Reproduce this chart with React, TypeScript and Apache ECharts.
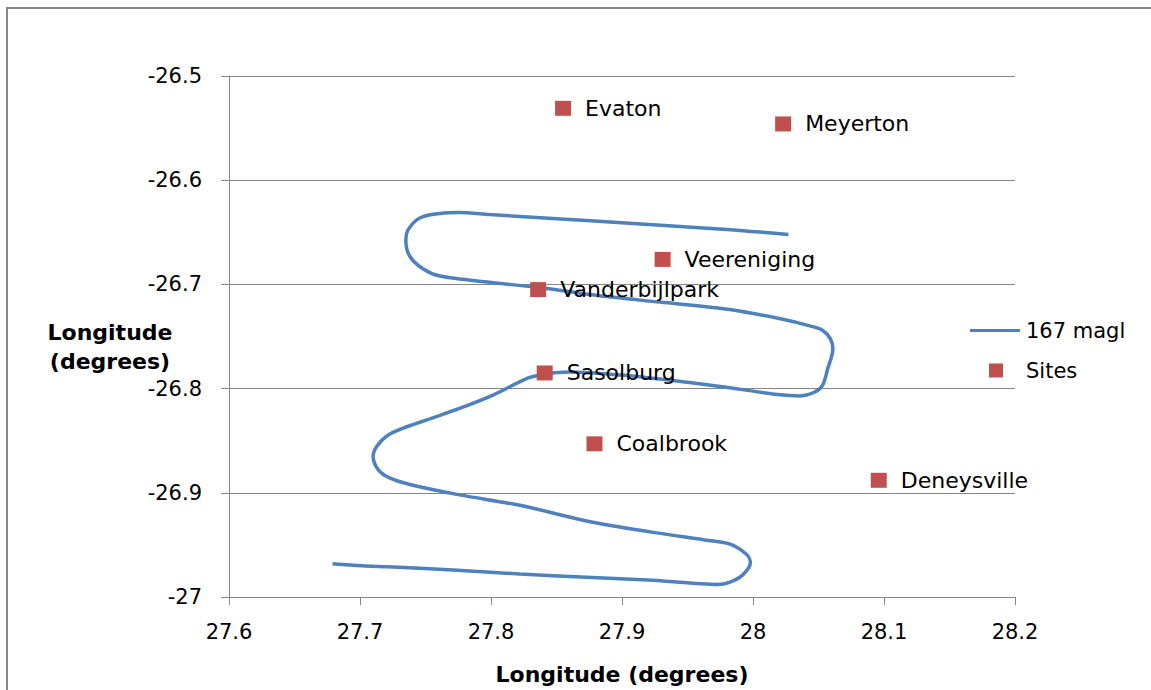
import React, { useEffect, useRef } from "react";
import * as echarts from "echarts";

// Trajectory (167 magl): longitude / latitude pairs, in path order
const trackLon = [
  28.027, 27.977, 27.876, 27.799, 27.776, 27.761, 27.746, 27.737, 27.735, 27.738,
  27.748, 27.761, 27.799, 27.837, 27.883, 27.929, 27.982, 28.021, 28.044, 28.053,
  28.059, 28.061, 28.057, 28.053, 28.046, 28.036, 28.021, 27.975, 27.937, 27.899,
  27.860, 27.847, 27.841, 27.828, 27.802, 27.776, 27.751, 27.733, 27.721, 27.713,
  27.710, 27.714, 27.723, 27.738, 27.776, 27.822, 27.873, 27.924, 27.962, 27.982,
  27.995, 27.998, 27.992, 27.982, 27.973, 27.924, 27.873, 27.822, 27.771, 27.721,
  27.702, 27.679,
];
const trackLat = [
  -26.652, -26.647, -26.639, -26.633, -26.631, -26.632, -26.636, -26.647, -26.658, -26.673,
  -26.685, -26.692, -26.698, -26.703, -26.711, -26.717, -26.724, -26.733, -26.740, -26.744,
  -26.752, -26.762, -26.781, -26.797, -26.804, -26.807, -26.806, -26.798, -26.792, -26.787,
  -26.784, -26.785, -26.786, -26.790, -26.806, -26.819, -26.830, -26.838, -26.845, -26.855,
  -26.865, -26.878, -26.886, -26.892, -26.902, -26.912, -26.927, -26.938, -26.945, -26.949,
  -26.959, -26.967, -26.979, -26.986, -26.988, -26.984, -26.981, -26.978, -26.974, -26.971,
  -26.970, -26.968,
];

// Sites
const siteNames = ["Evaton", "Meyerton", "Veereniging", "Vanderbijlpark", "Sasolburg", "Coalbrook", "Deneysville"];
const siteLon = [27.855, 28.023, 27.931, 27.836, 27.841, 27.879, 28.096];
const siteLat = [-26.531, -26.546, -26.676, -26.705, -26.785, -26.853, -26.888];

// Axis ticks
const xTicks = [27.6, 27.7, 27.8, 27.9, 28, 28.1, 28.2];
const yTicks = [-27, -26.9, -26.8, -26.7, -26.6, -26.5];

const FONT = "DejaVu Sans";
const GRAY = "#868686";
const BLUE = "#4F81BD";
const RED = "#C0504D";

export default function App() {
  const ref = useRef<HTMLDivElement>(null);

  useEffect(() => {
    if (!ref.current) return;
    const chart = echarts.init(ref.current, undefined, { renderer: "svg" });

    const lineData = trackLon.map((x, i) => [x, trackLat[i]]);
    const siteData = siteNames.map((n, i) => ({ name: n, value: [siteLon[i], siteLat[i]] }));

    chart.setOption({
      animation: false,
      backgroundColor: "#ffffff",
      textStyle: { fontFamily: FONT },
      graphic: [
        {
          type: "rect",
          shape: { x: 7, y: 8, width: 1300, height: 900 },
          style: { fill: "none", stroke: "#888888", lineWidth: 2 },
          silent: true,
        },
        {
          type: "text",
          x: 110,
          y: 347,
          style: {
            text: "Longitude\n(degrees)",
            font: `bold 22px ${FONT}`,
            fill: "#000",
            textAlign: "center",
            textVerticalAlign: "middle",
            lineHeight: 29,
          },
        },
      ],
      grid: { left: 229, top: 76, right: 136, bottom: 90, containLabel: false },
      legend: [
        {
          orient: "vertical",
          left: 965,
          top: 315,
          icon: "rect",
          itemWidth: 50,
          itemHeight: 3,
          textStyle: { fontSize: 21, color: "#000", fontFamily: FONT, padding: [0, 0, 0, 1] },
          data: ["167 magl"],
        },
        {
          orient: "vertical",
          left: 984,
          top: 355,
          icon: "rect",
          itemWidth: 14,
          itemHeight: 14,
          textStyle: { fontSize: 21, color: "#000", fontFamily: FONT, padding: [0, 0, 0, 18] },
          data: ["Sites"],
        },
      ],
      xAxis: {
        type: "value",
        min: xTicks[0],
        max: xTicks[xTicks.length - 1],
        interval: 0.1,
        name: "Longitude (degrees)",
        nameLocation: "middle",
        nameGap: 66,
        nameTextStyle: { fontSize: 22, fontWeight: "bold", color: "#000", fontFamily: FONT },
        axisLine: { show: true, lineStyle: { color: GRAY, width: 1 } },
        axisTick: { show: true, length: 8, lineStyle: { color: GRAY } },
        splitLine: { show: false },
        axisLabel: {
          fontSize: 21,
          color: "#000",
          margin: 24,
          formatter: (v: number) => String(+v.toFixed(1)),
        },
      },
      yAxis: {
        type: "value",
        min: yTicks[0],
        max: yTicks[yTicks.length - 1],
        interval: 0.1,
        axisLine: { show: true, lineStyle: { color: GRAY, width: 1 } },
        axisTick: { show: true, length: 8, lineStyle: { color: GRAY } },
        splitLine: { show: true, lineStyle: { color: GRAY, width: 1 } },
        axisLabel: {
          fontSize: 21,
          color: "#000",
          margin: 27,
          formatter: (v: number) => String(+v.toFixed(1)),
        },
      },
      series: [
        {
          name: "167 magl",
          type: "line",
          data: lineData,
          symbol: "none",
          showSymbol: false,
          smooth: 0.3,
          lineStyle: { color: BLUE, width: 3.5 },
          itemStyle: { color: BLUE },
          z: 2,
        },
        {
          name: "Sites",
          type: "scatter",
          data: siteData,
          symbol: "rect",
          symbolSize: [16, 15],
          itemStyle: { color: RED, opacity: 1 },
          label: {
            show: true,
            position: "right",
            distance: 14,
            formatter: "{b}",
            fontSize: 22,
            color: "#000",
            fontFamily: FONT,
          },
          z: 3,
        },
      ],
    });

    return () => chart.dispose();
  }, []);

  return (
    <div
      ref={ref}
      style={{ position: "fixed", left: 0, top: 0, width: 1151, height: 690, background: "#fff" }}
    />
  );
}
